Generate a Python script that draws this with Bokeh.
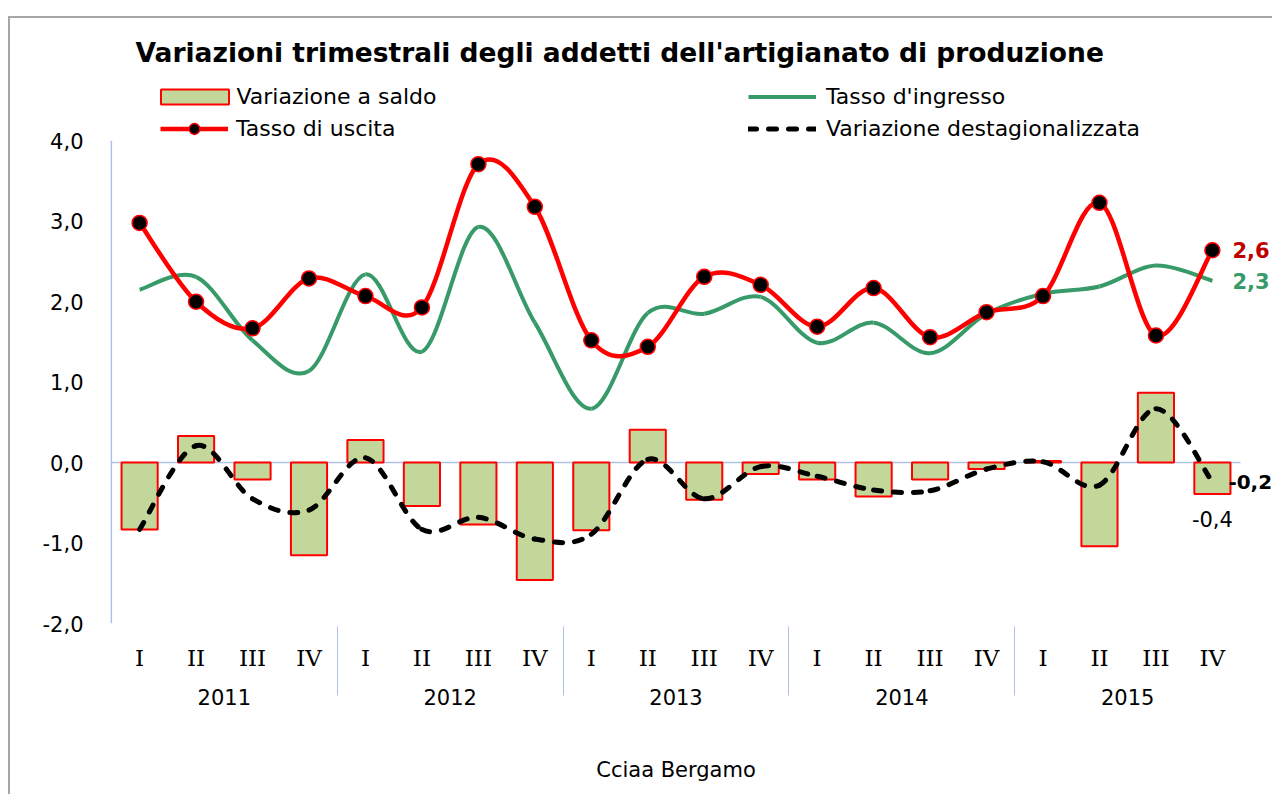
import numpy as np
from bokeh.plotting import figure
from bokeh.models import (FactorRange, Range1d, Legend, LegendItem, Label, FixedTicker,
                          CustomJSTickFormatter, ColumnDataSource)
from bokeh.embed import file_html
from bokeh.resources import INLINE

# ---------------- data ----------------
years = ["2011", "2012", "2013", "2014", "2015"]
quarters = ["I", "II", "III", "IV"]
saldo = [-0.83, 0.33, -0.21, -1.15, 0.28, -0.54, -0.77, -1.46, -0.84, 0.41,
         -0.46, -0.14, -0.21, -0.42, -0.21, -0.08, 0.02, -1.04, 0.87, -0.39]
ingresso = [2.15, 2.31, 1.52, 1.14, 2.34, 1.38, 2.93, 1.74, 0.67, 1.86,
            1.85, 2.06, 1.49, 1.74, 1.36, 1.85, 2.10, 2.19, 2.45, 2.26]
uscita = [2.98, 2.00, 1.67, 2.29, 2.07, 1.93, 3.71, 3.18, 1.52, 1.44,
          2.31, 2.21, 1.69, 2.17, 1.56, 1.87, 2.07, 3.23, 1.58, 2.64]
destag = [-0.83, 0.21, -0.45, -0.59, 0.06, -0.83, -0.68, -0.95, -0.89, 0.04,
          -0.45, -0.05, -0.17, -0.34, -0.35, -0.08, 0.01, -0.28, 0.67, -0.24]
yticks = [-2, -1, 0, 1, 2, 3, 4]

title_text = "Variazioni trimestrali degli addetti dell'artigianato di produzione"
source_text = "Cciaa Bergamo"

# ---------------- styles ----------------
GREEN = "#379A68"
RED = "#FF0000"
DARK_RED = "#C00000"
BAR_FILL = "#C4D79B"
AXIS_BLUE = "#AFC2E6"
FONT = "DejaVu Sans"
Y_TOP = 4.85          # headroom above the last tick for the legend
DASH = "8 12"

factors = [(y, q) for y in years for q in quarters]
N = len(factors)

p = figure(width=1264, height=778,
           x_range=FactorRange(*factors, factor_padding=0, group_padding=0,
                               subgroup_padding=0, range_padding=0.6,
                               range_padding_units="absolute"),
           y_range=Range1d(yticks[0], Y_TOP),
           output_backend="svg", toolbar_location=None,
           min_border_left=67, min_border_right=0,
           min_border_top=54, min_border_bottom=173)
p.styles = {"margin-left": "8px", "margin-top": "16px",
            "border-left": "2px solid #A6A6A6", "border-top": "2px solid #A6A6A6"}
p.outline_line_color = None
p.grid.visible = False

# title
p.title.text = title_text
p.title.align = "left"
p.title.offset = 58
p.title.text_font = FONT
p.title.text_font_size = "26.5px"
p.title.text_font_style = "bold"
p.title.text_color = "black"

# axes
p.yaxis.ticker = FixedTicker(ticks=yticks)
p.yaxis.formatter = CustomJSTickFormatter(code="return tick.toFixed(1).replace('.', ',')")
p.yaxis.axis_line_color = None
p.yaxis.major_tick_line_color = None
p.yaxis.minor_tick_line_color = None
p.yaxis.major_label_standoff = -12
p.yaxis.major_label_text_font = FONT
p.yaxis.major_label_text_font_size = "21px"
p.yaxis.major_label_text_color = "black"

xa = p.xaxis[0]
xa.axis_line_color = None
xa.major_tick_line_color = None
xa.major_label_text_font = "DejaVu Serif"
xa.major_label_text_font_size = "23px"
xa.major_label_text_color = "black"
xa.group_text_font = FONT
xa.group_text_font_size = "21px"
xa.group_text_font_style = "normal"
xa.group_text_color = "black"
xa.separator_line_color = AXIS_BLUE
xa.separator_line_width = 1
xa.major_label_standoff = 15
xa.axis_label = source_text
xa.axis_label_text_font = FONT
xa.axis_label_text_font_size = "21px"
xa.axis_label_text_font_style = "normal"
xa.axis_label_text_color = "black"
xa.axis_label_standoff = 50

src = ColumnDataSource(dict(x=factors, saldo=saldo, ingresso=ingresso,
                            uscita=uscita, destag=destag))

# axis lines across the category span (synthetic coordinates 0..N)
p.segment(x0=[0], y0=[0], x1=[N], y1=[0], line_color=AXIS_BLUE, line_width=1.5)
p.segment(x0=[0], y0=[yticks[0]], x1=[0], y1=[yticks[-1]], line_color=AXIS_BLUE, line_width=1.5)


def bezier_source(vals):
    # smoothed (Excel-like) segments: control points from neighbouring data points
    x = np.arange(N) + 0.5   # synthetic coordinates of the factors
    y = np.asarray(vals, dtype=float)
    i = np.arange(N - 1)
    prv = np.maximum(i - 1, 0)
    nx2 = np.minimum(i + 2, N - 1)
    return ColumnDataSource(dict(
        x0=x[i], y0=y[i], x1=x[i + 1], y1=y[i + 1],
        cx0=x[i] + (x[i + 1] - x[prv]) / 6, cy0=y[i] + (y[i + 1] - y[prv]) / 6,
        cx1=x[i + 1] - (x[nx2] - x[i]) / 6, cy1=y[i + 1] - (y[nx2] - y[i]) / 6))


bars = p.vbar(x="x", top="saldo", bottom=0, width=0.64, source=src,
              fill_color=BAR_FILL, line_color=RED, line_width=2)

bz = dict(x0="x0", y0="y0", x1="x1", y1="y1", cx0="cx0", cy0="cy0", cx1="cx1", cy1="cy1")
p.bezier(source=bezier_source(ingresso), line_color=GREEN, line_width=4, **bz)
p.bezier(source=bezier_source(uscita), line_color=RED, line_width=4.5, **bz)
p.bezier(source=bezier_source(destag), line_color="black", line_width=5,
         line_dash=DASH, line_cap="round", **bz)
dots = p.scatter(x="x", y="uscita", source=src, size=15, fill_color="black",
                 line_color=RED, line_width=1.5)

# legend proxies (a single invisible NaN point each, drawn only in the legend)
nan_x, nan_y = [factors[0]], [np.nan]
g_proxy = p.line(x=nan_x, y=nan_y, line_color=GREEN, line_width=4)
r_proxy = p.line(x=nan_x, y=nan_y, line_color=RED, line_width=4.5)
d_proxy = p.line(x=nan_x, y=nan_y, line_color="black", line_width=5,
                 line_dash=DASH, line_cap="round")

leg_common = dict(orientation="vertical", label_text_font=FONT, label_text_font_size="22px",
                  label_text_color="black", label_height=26, spacing=6, padding=0, margin=0,
                  border_line_color=None, background_fill_alpha=0)
legA = Legend(items=[LegendItem(label="Variazione a saldo", renderers=[bars])],
              location=(74.5, 514), glyph_width=85, glyph_height=19, label_standoff=0,
              **leg_common)
legB = Legend(items=[LegendItem(label="Tasso di uscita", renderers=[r_proxy, dots])],
              location=(83, 481.5), glyph_width=68, glyph_height=27, label_standoff=8,
              **leg_common)
legC = Legend(items=[LegendItem(label="Tasso d'ingresso", renderers=[g_proxy]),
                     LegendItem(label="Variazione destagionalizzata", renderers=[d_proxy])],
              location=(671, 482), glyph_width=68, glyph_height=19, label_standoff=10,
              **leg_common)
for lg in (legA, legB, legC):
    p.add_layout(lg)


def fmt(v):
    return f"{v:.1f}".replace(".", ",")


last = N - 0.5
p.add_layout(Label(x=last, y=uscita[-1], x_offset=20, text=fmt(uscita[-1]),
                   text_baseline="middle", text_font=FONT, text_font_size="21px",
                   text_font_style="bold", text_color=DARK_RED))
p.add_layout(Label(x=last, y=ingresso[-1], x_offset=20, text=fmt(ingresso[-1]),
                   text_baseline="middle", text_font=FONT, text_font_size="21px",
                   text_font_style="bold", text_color=GREEN))
p.add_layout(Label(x=last, y=destag[-1], x_offset=16, text=fmt(destag[-1]),
                   text_baseline="middle", text_font=FONT, text_font_size="20px",
                   text_font_style="bold", text_color="black"))
p.add_layout(Label(x=last, y=saldo[-1], y_offset=-17, text=fmt(saldo[-1]),
                   text_align="center", text_baseline="top", text_font=FONT,
                   text_font_size="21px", text_color="black"))

open("out.html", "w").write(file_html(p, INLINE))
